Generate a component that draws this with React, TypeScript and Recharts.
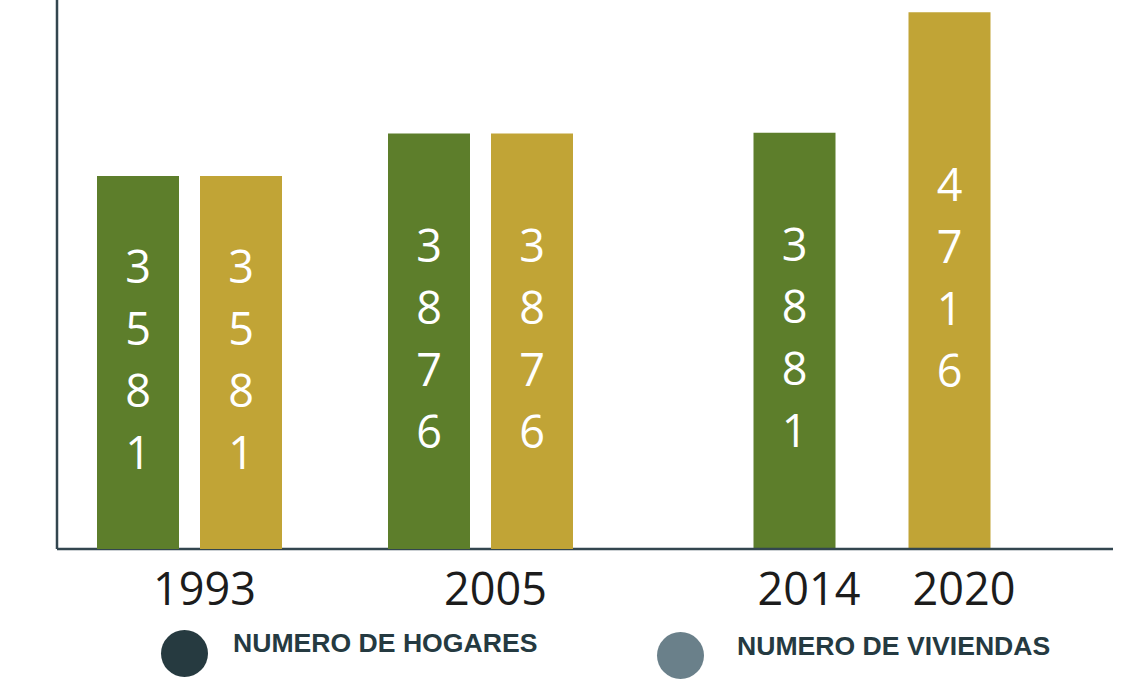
import { BarChart, Bar, XAxis, YAxis, LabelList, Cell } from 'recharts';

const years = ['1993', '2005', '2014', '2020'];
const hogares = [3581, 3876, 3881, null];
const viviendas = [3581, 3876, null, 4716];

const legendLabels = ['NUMERO DE HOGARES', 'NUMERO DE VIVIENDAS'];
const legendColors = ['#263a40', '#6a808a'];

const GREEN = '#5d7e2b';
const GOLD = '#c1a436';
const AXIS = '#33464f';
const Y_DOMAIN: [number, number] = [1000, 4800];

// 1993 and 2005 have both series side by side
const pairedData = years.slice(0, 2).map((year, i) => ({
    year,
    hogares: hogares[i],
    viviendas: viviendas[i],
}));

// 2014 and 2020 only have one series each
const singleData = years.slice(2).map((year, j) => {
    const i = j + 2;
    const isHogar = hogares[i] != null;
    return {
        year,
        value: isHogar ? hogares[i] : viviendas[i],
        color: isHogar ? GREEN : GOLD,
    };
});

const W = 1129;
const H = 693;
const chartMargin = { top: 0, bottom: 84 };

// digits stacked one above the other, centered in the bar
const DigitLabel = (props: any) => {
    const x = Number(props.x);
    const y = Number(props.y);
    const width = Number(props.width);
    const height = Number(props.height);
    const digits = String(props.value).split('');
    const cx = x + width / 2;
    const cy = y + height / 2 - 4;
    return (
        <g>
            {digits.map((d, i) => (
                <text
                    key={i}
                    x={cx}
                    y={cy + (i - (digits.length - 1) / 2) * 62}
                    textAnchor="middle"
                    dominantBaseline="central"
                    fill="#ffffff"
                    fontSize={45}
                    fontFamily="Open Sans"
                >
                    {d}
                </text>
            ))}
        </g>
    );
};

const YearTick = (props: any) => {
    const { x, y, payload } = props;
    return (
        <text
            x={Number(x) + 15}
            y={Number(y) + 48}
            textAnchor="middle"
            fill="#1c1c1c"
            fontSize={45}
            fontFamily="Open Sans"
        >
            {payload.value}
        </text>
    );
};

export default function App() {
    return (
        <div style={{ position: 'relative', width: W, height: H, background: '#fff' }}>
            <style>{`body { margin: 0; }`}</style>

            {/* right part: axes plus 2014 / 2020 */}
            <div style={{ position: 'absolute', left: 0, top: 0 }}>
                <BarChart width={W} height={H} data={singleData} margin={{ ...chartMargin, left: 0, right: 16 }}>
                    <YAxis
                        domain={Y_DOMAIN}
                        width={57}
                        tick={false}
                        tickLine={false}
                        axisLine={{ stroke: AXIS, strokeWidth: 2.5 }}
                    />
                    <XAxis
                        dataKey="year"
                        height={60}
                        padding={{ left: 659.5, right: 86.5 }}
                        tickLine={false}
                        axisLine={{ stroke: AXIS, strokeWidth: 2.5 }}
                        tick={<YearTick />}
                    />
                    <Bar dataKey="value" barSize={82} isAnimationActive={false}>
                        {singleData.map((d, i) => (
                            <Cell key={i} fill={d.color} />
                        ))}
                        <LabelList dataKey="value" content={<DigitLabel />} />
                    </Bar>
                </BarChart>
            </div>

            {/* left part: 1993 / 2005 grouped */}
            <div style={{ position: 'absolute', left: 0, top: 0 }}>
                <BarChart
                    width={W}
                    height={H}
                    data={pairedData}
                    margin={{ ...chartMargin, left: 44, right: 503 }}
                    barGap={21}
                >
                    <YAxis domain={Y_DOMAIN} hide />
                    <XAxis dataKey="year" height={60} tickLine={false} axisLine={false} tick={<YearTick />} />
                    <Bar dataKey="hogares" fill={GREEN} barSize={82} isAnimationActive={false}>
                        <LabelList dataKey="hogares" content={<DigitLabel />} />
                    </Bar>
                    <Bar dataKey="viviendas" fill={GOLD} barSize={82} isAnimationActive={false}>
                        <LabelList dataKey="viviendas" content={<DigitLabel />} />
                    </Bar>
                </BarChart>
            </div>

            {/* legend */}
            {legendLabels.map((label, i) => (
                <div key={label}>
                    <div
                        style={{
                            position: 'absolute',
                            left: i === 0 ? 160.5 : 656.5,
                            top: i === 0 ? 629.5 : 631.5,
                            width: 47,
                            height: 47,
                            borderRadius: '50%',
                            background: legendColors[i],
                        }}
                    />
                    <div
                        style={{
                            position: 'absolute',
                            left: i === 0 ? 233 : 737,
                            top: i === 0 ? 630 : 633,
                            fontFamily: 'Liberation Sans, Arial, sans-serif',
                            fontWeight: 'bold',
                            fontSize: 26.6,
                            lineHeight: '26px',
                            color: '#253a41',
                            whiteSpace: 'nowrap',
                        }}
                    >
                        {label}
                    </div>
                </div>
            ))}
        </div>
    );
}
